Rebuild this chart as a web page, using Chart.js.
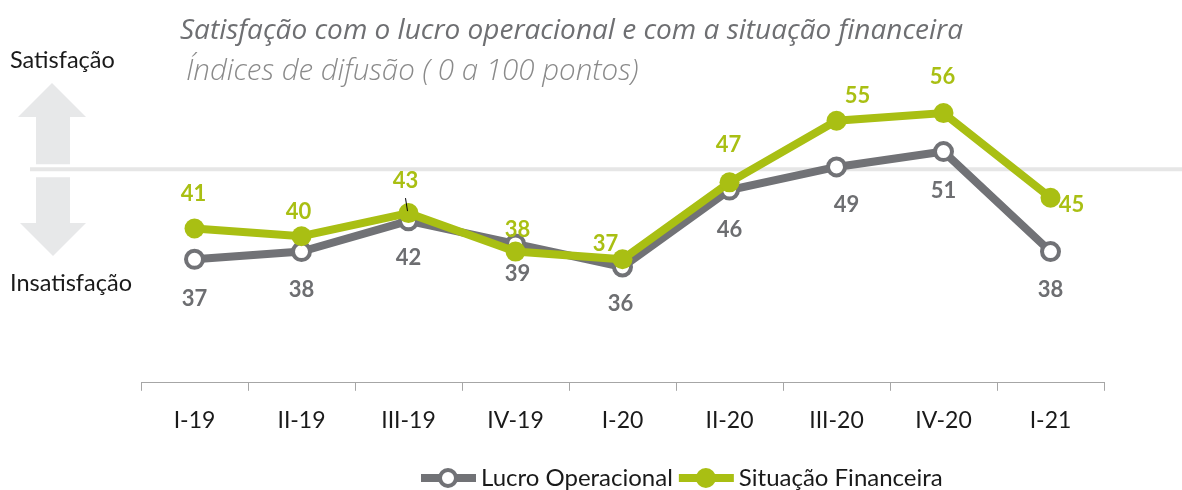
<!DOCTYPE html>
<html>
<head>
<meta charset="utf-8">
<script src="https://cdn.jsdelivr.net/npm/chart.js@4.4.1/dist/chart.umd.min.js"></script>
<style>
    html, body { margin: 0; padding: 0; background: #fff; }
    canvas { display: block; }
</style>
</head>
<body>
<canvas id="difusaoChart" width="1182" height="490"></canvas>
<script>
const categorias = ['I-19', 'II-19', 'III-19', 'IV-19', 'I-20', 'II-20', 'III-20', 'IV-20', 'I-21'];
const lucroOperacional = [37, 38, 42, 39, 36, 46, 49, 51, 38];
const situacaoFinanceira = [41, 40, 43, 38, 37, 47, 55, 56, 45];
const linhaNeutra = 48.7;

// deslocamento dos rótulos [dx, dy] em px a partir do ponto
const offLucro = [[0, 40], [0, 38], [0, 37], [2, 30], [-2, 37], [0, 40], [10, 38], [0, 39], [0, 38]];
const offSituacao = [[-1, -35], [-3, -24], [-3, -32], [2, -22], [-17, -15], [-1, -37], [21, -25], [-1, -36], [21, 7]];

const CINZA = '#717276';
const CINZA_TXT = '#6d6e71';
const VERDE = '#a9bf13';
const FONTE = 'Lato, "Open Sans", sans-serif';
const FONTE_TIT = '"Open Sans", Lato, sans-serif';

const decoracoes = {
    id: 'decoracoes',
    beforeDatasetsDraw(chart) {
        const { ctx } = chart;
        const yn = chart.scales.y.getPixelForValue(linhaNeutra);
        ctx.save();
        ctx.fillStyle = '#e7e8e9';
        ctx.beginPath();
        ctx.moveTo(36, yn - 5); ctx.lineTo(36, 117); ctx.lineTo(18, 117); ctx.lineTo(52, 83);
        ctx.lineTo(86, 117); ctx.lineTo(70, 117); ctx.lineTo(70, yn - 5);
        ctx.closePath(); ctx.fill();
        ctx.beginPath();
        ctx.moveTo(36, yn + 8); ctx.lineTo(70, yn + 8); ctx.lineTo(70, 223); ctx.lineTo(86, 223);
        ctx.lineTo(53, 256); ctx.lineTo(20, 223); ctx.lineTo(36, 223);
        ctx.closePath(); ctx.fill();

        ctx.strokeStyle = '#e6e6e6';
        ctx.lineWidth = 4;
        ctx.beginPath();
        ctx.moveTo(30, yn);
        ctx.lineTo(chart.width, yn);
        ctx.stroke();

        ctx.textAlign = 'left';
        ctx.textBaseline = 'alphabetic';
        ctx.fillStyle = '#1a1a1a';
        ctx.font = `23.5px ${FONTE}`;
        ctx.fillText('Satisfação', 10, 68);
        ctx.fillText('Insatisfação', 10, 291);

        ctx.fillStyle = '#6e6f72';
        ctx.font = `italic 28px ${FONTE_TIT}`;
        ctx.fillText('Satisfação com o lucro operacional e com a situação financeira', 180, 39);
        ctx.fillStyle = '#8a8a8a';
        ctx.font = `italic 300 29.5px ${FONTE_TIT}`;
        ctx.fillText('Índices de difusão ( 0 a 100 pontos)', 186, 80);
        ctx.restore();
    }
};

const rotulos = {
    id: 'rotulos',
    afterDatasetsDraw(chart) {
        const { ctx } = chart;
        const offs = [offLucro, offSituacao];
        const cores = [CINZA_TXT, VERDE];
        ctx.save();
        ctx.font = `bold 22px ${FONTE}`;
        ctx.textAlign = 'center';
        ctx.textBaseline = 'middle';
        chart.data.datasets.forEach((ds, i) => {
            const meta = chart.getDatasetMeta(i);
            ctx.fillStyle = cores[i];
            meta.data.forEach((pt, j) => {
                const [dx, dy] = offs[i][j];
                ctx.fillText(String(ds.data[j]), pt.x + dx, pt.y + dy);
            });
        });
        // pequena linha guia do rótulo 43
        const p = chart.getDatasetMeta(1).data[2];
        ctx.strokeStyle = '#000';
        ctx.lineWidth = 1;
        ctx.beginPath();
        ctx.moveTo(p.x - 3, p.y - 15);
        ctx.lineTo(p.x - 1, p.y - 2);
        ctx.stroke();
        ctx.restore();
    }
};

const legenda = {
    id: 'legenda',
    afterDraw(chart) {
        const { ctx } = chart;
        const itens = [
            { txt: 'Lucro Operacional', cor: CINZA, vazio: true },
            { txt: 'Situação Financeira', cor: VERDE, vazio: false }
        ];
        const y = 478;
        let x = 421;
        ctx.save();
        ctx.font = `24px ${FONTE}`;
        ctx.textBaseline = 'middle';
        ctx.textAlign = 'left';
        itens.forEach((it) => {
            ctx.strokeStyle = it.cor;
            ctx.lineWidth = 8;
            ctx.beginPath();
            ctx.moveTo(x, y);
            ctx.lineTo(x + 55, y);
            ctx.stroke();
            ctx.beginPath();
            ctx.arc(x + 27, y, it.vazio ? 8 : 10, 0, Math.PI * 2);
            ctx.fillStyle = it.vazio ? '#fff' : it.cor;
            ctx.fill();
            if (it.vazio) { ctx.lineWidth = 4; ctx.stroke(); }
            ctx.fillStyle = '#1a1a1a';
            ctx.fillText(it.txt, x + 60, y);
            x += 60 + ctx.measureText(it.txt).width + 6;
        });
        ctx.restore();
    }
};

new Chart(document.getElementById('difusaoChart').getContext('2d'), {
    type: 'line',
    data: {
        labels: categorias,
        datasets: [{
            label: 'Lucro Operacional',
            data: lucroOperacional,
            borderColor: CINZA,
            borderWidth: 8,
            pointRadius: 8.5,
            pointBorderWidth: 4,
            pointBackgroundColor: '#fff',
            pointBorderColor: CINZA,
            tension: 0,
            clip: false,
            order: 1
        }, {
            label: 'Situação Financeira',
            data: situacaoFinanceira,
            borderColor: VERDE,
            borderWidth: 8,
            pointRadius: 10,
            pointBorderWidth: 0,
            pointBackgroundColor: VERDE,
            pointBorderColor: VERDE,
            tension: 0,
            clip: false,
            order: 0
        }]
    },
    options: {
        responsive: false,
        animation: false,
        layout: { padding: { left: 141, right: 78, top: 100, bottom: 39.6 } },
        plugins: {
            legend: { display: false },
            tooltip: { enabled: false }
        },
        scales: {
            y: { display: false, min: 20.95, max: 57.7 },
            x: {
                offset: true,
                grid: { offset: true, drawOnChartArea: false, drawTicks: true, tickLength: 8, color: '#a6a6a6' },
                border: { color: '#a6a6a6', width: 1 },
                ticks: { padding: 16, color: '#1a1a1a', font: { family: FONTE, size: 23 } }
            }
        }
    },
    plugins: [decoracoes, rotulos, legenda]
});
</script>
</body>
</html>
